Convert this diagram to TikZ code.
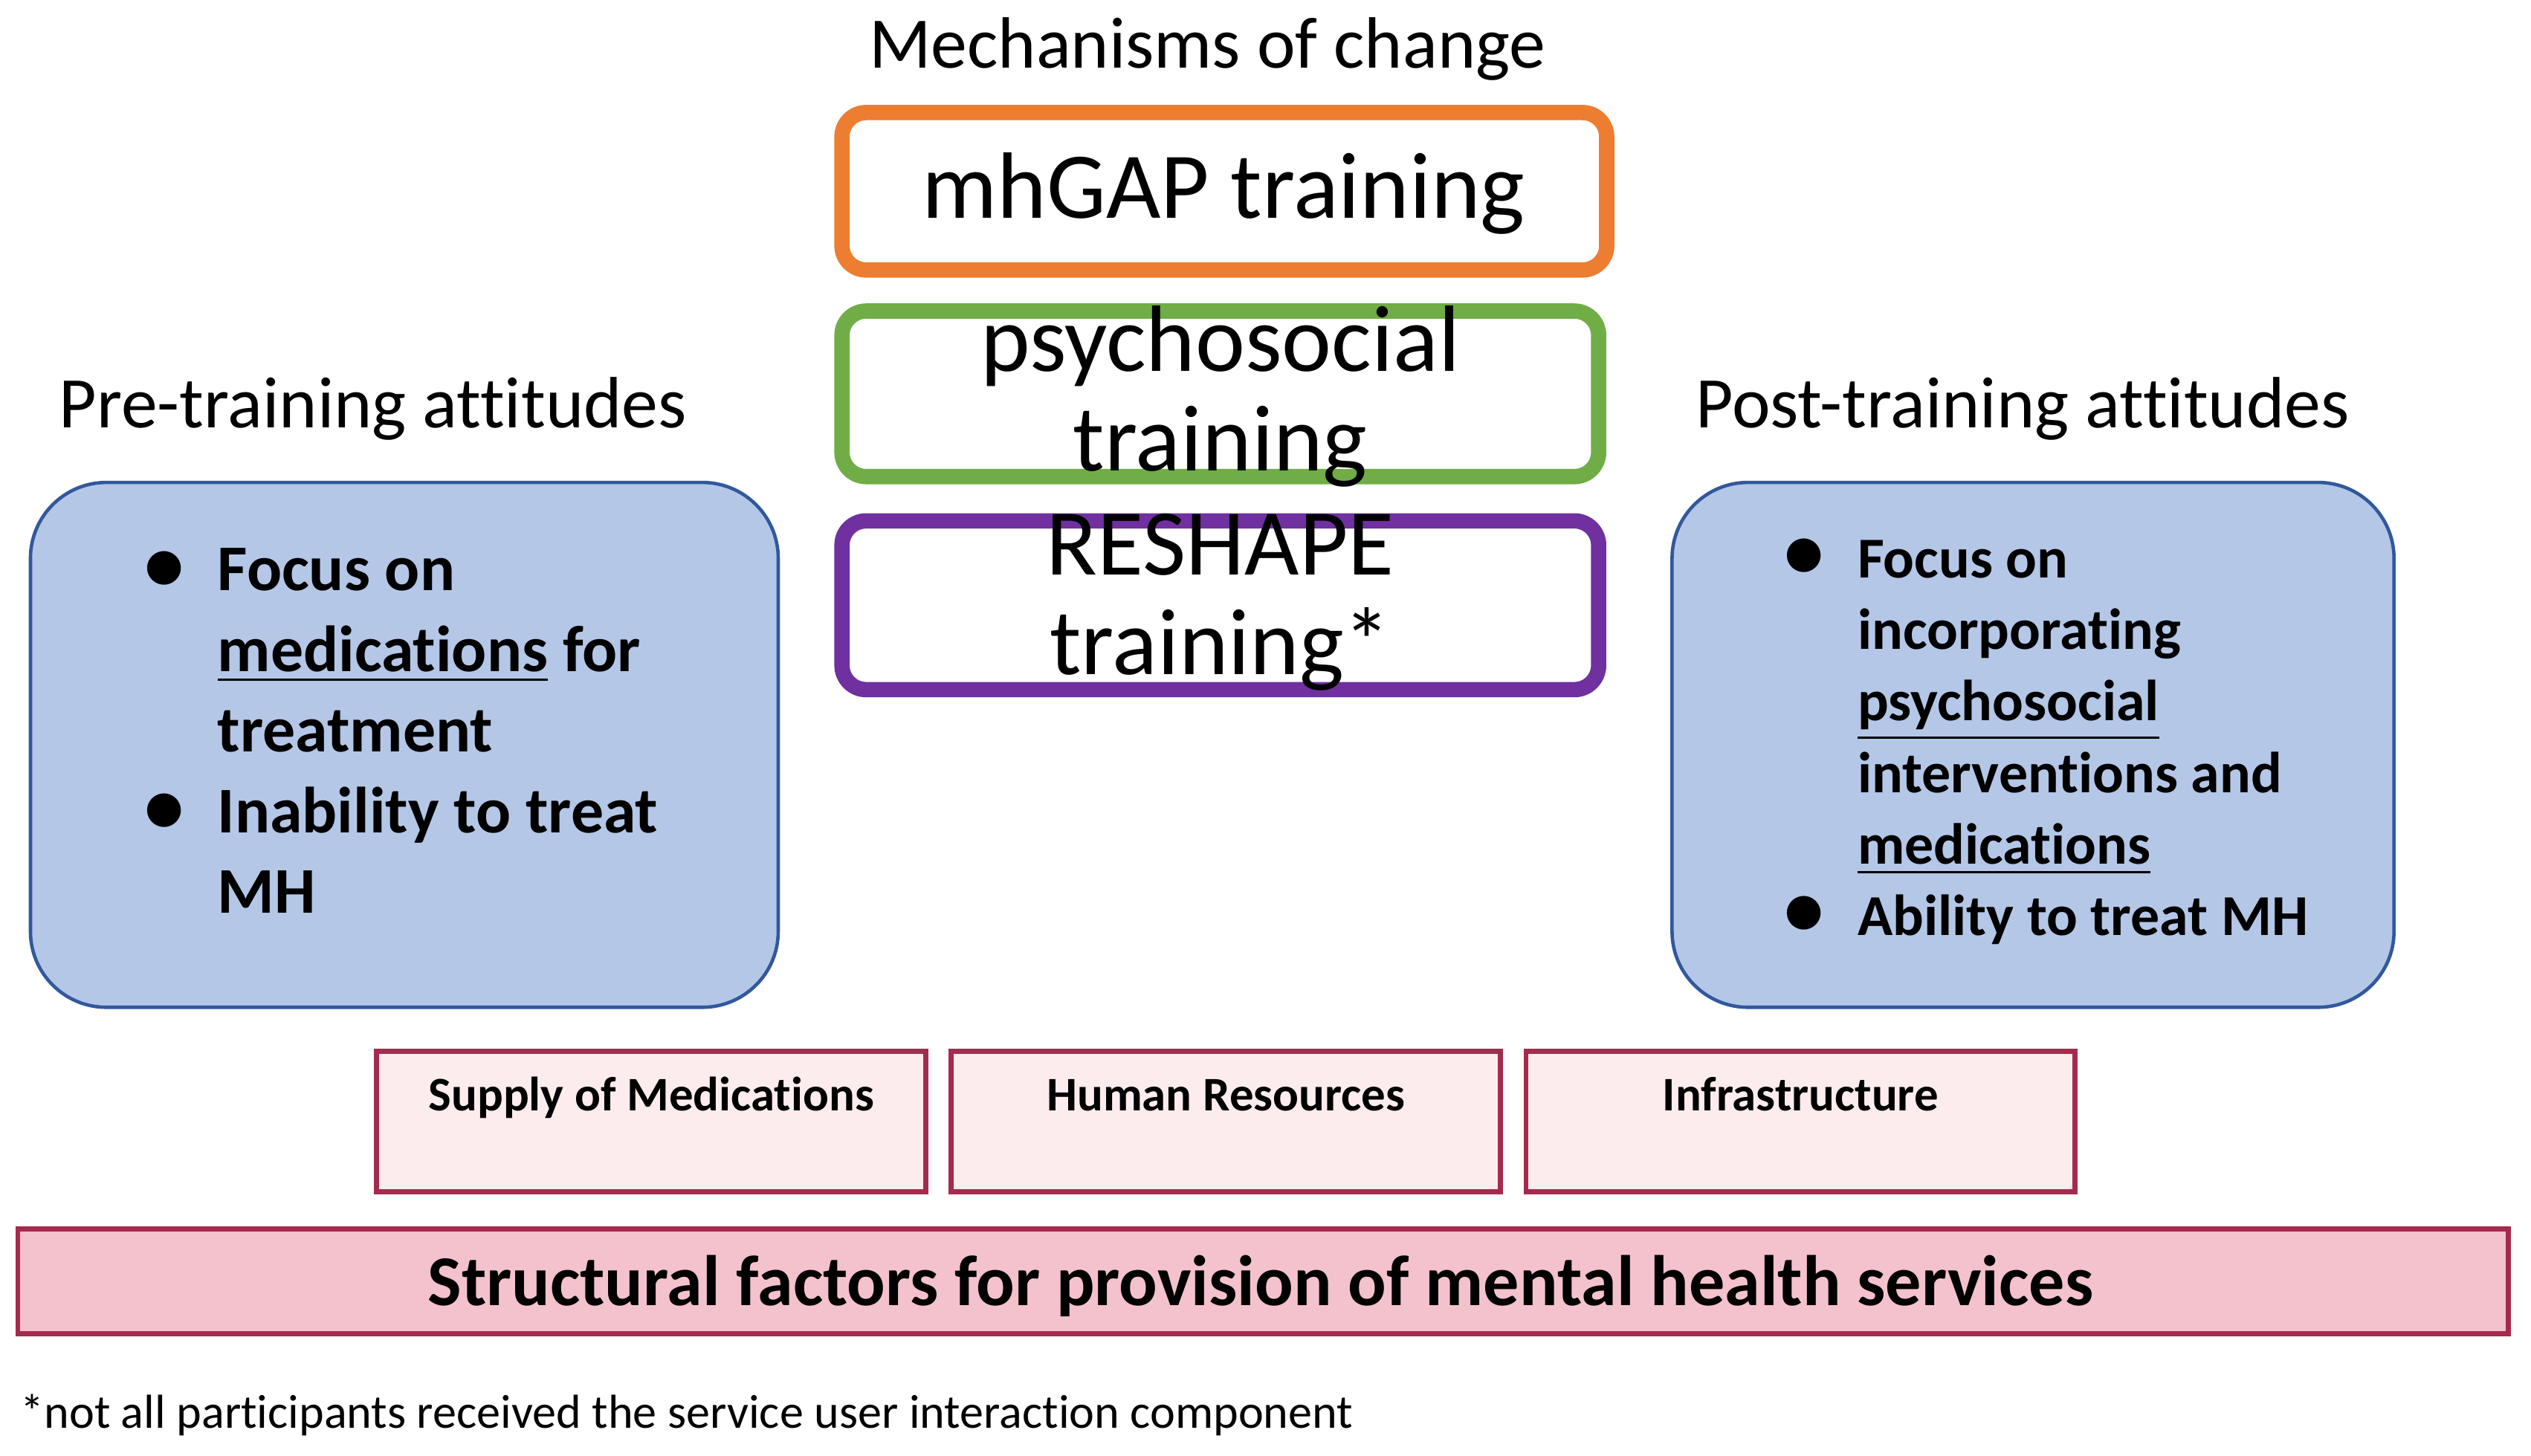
\documentclass[tikz,border=0pt]{standalone}
\usepackage{fontspec}
\setmainfont{Carlito}[Ligatures={NoCommon}]
\definecolor{morange}{RGB}{237,125,49}
\definecolor{mgreen}{RGB}{112,173,71}
\definecolor{mpurple}{RGB}{112,48,160}
\definecolor{bfill}{RGB}{180,199,231}
\definecolor{bborder}{RGB}{50,88,156}
\definecolor{ffill}{RGB}{252,236,238}
\definecolor{fborder}{RGB}{165,42,78}
\definecolor{sfill}{RGB}{244,194,204}
\newcommand\fsz[2]{\fontsize{#1}{#2}\selectfont}
\newcommand\bul{\makebox[18.8pt][c]{\fontsize{14}{14}\selectfont\textbullet}}
\begin{document}
\begin{tikzpicture}[x=0.01cm,y=-0.01cm,
  mech/.style={draw=#1, line width=2.7pt, rounded corners=0.15cm, fill=white, inner sep=0pt},
  attbox/.style={draw=bborder, line width=0.6pt, fill=bfill, rounded corners=0.47cm, inner sep=0pt},
  factor/.style={draw=fborder, line width=0.9pt, fill=ffill, inner sep=0pt, minimum width=3.40cm, minimum height=0.87cm},
  heading/.style={anchor=base, inner sep=0pt, font=\fsz{12.8}{15}},
  mechtext/.style={anchor=base, inner sep=0pt, font=\fsz{16.6}{17.6}},
  factortext/.style={anchor=base, inner sep=0pt, font=\fsz{8.5}{10}\bfseries}]
\useasboundingbox (0,0) rectangle (1568,902);

% headings
\node[heading] (mechhead) at (748,42) {Mechanisms of change};
\node[heading, anchor=base west] (prehead) at (36,265) {Pre-training attitudes};
\node[heading, anchor=base west] (posthead) at (1050,265) {Post-training attitudes};

% mechanism boxes
\node[mech=morange, minimum width=4.735cm, minimum height=0.975cm] (mhgap) at (758.5,118.5) {};
\node[mech=mgreen, minimum width=4.685cm, minimum height=1.025cm] (psycho) at (756,244) {};
\node[mech=mpurple, minimum width=4.685cm, minimum height=1.045cm] (reshape) at (756,375) {};
\node[mechtext] (mhgaptext) at (758,135) {mhGAP training};
\node[mechtext] (psychotext) at (756,230) {\begin{tabular}[t]{@{}c@{}}psychosocial\\training\end{tabular}};
\node[mechtext] (reshapetext) at (756,356) {\begin{tabular}[t]{@{}c@{}}RESHAPE\\training*\end{tabular}};

% attitude boxes
\node[attbox, minimum width=4.63cm, minimum height=3.25cm] (prebox) at (250.5,461.5) {};
\node[attbox, minimum width=4.47cm, minimum height=3.25cm] (postbox) at (1259.5,461.5) {};
\node[anchor=base west, inner sep=0pt, font=\fsz{11.5}{14.2}\bfseries] (pretext) at (68,366)
  {\begin{tabular}[t]{@{}l@{}l@{}}
   \bul & Focus on\\
        & \smash{\underline{medications}} for\\
        & treatment\\
   \bul & Inability to treat\\
        & MH
   \end{tabular}};
\node[anchor=base west, inner sep=0pt, font=\fsz{10.2}{12.6}\bfseries] (posttext) at (1084,358)
  {\begin{tabular}[t]{@{}l@{}l@{}}
   \bul & Focus on\\
        & incorporating\\
        & \smash{\underline{psychosocial}}\\
        & interventions and\\
        & \smash{\underline{medications}}\\
   \bul & Ability to treat MH
   \end{tabular}};

% structural factors
\node[factor] (supply) at (403.5,695) {};
\node[factor] (human) at (759.5,695) {};
\node[factor] (infra) at (1115.5,695) {};
\node[factortext] (supplytext) at (403.5,688) {Supply of Medications};
\node[factortext] (humantext) at (759.5,688) {Human Resources};
\node[factortext] (infratext) at (1115.5,688) {Infrastructure};

\node[draw=fborder, line width=0.9pt, fill=sfill, inner sep=0pt, minimum width=15.42cm, minimum height=0.65cm] (struct) at (782.5,794) {};
\node[anchor=base, inner sep=0pt, font=\fsz{12.6}{15}\bfseries] (structtext) at (781,809) {Structural factors for provision of mental health services};

% footnote
\node[anchor=base west, inner sep=0pt, font=\fsz{8.4}{10}] (footnote) at (12,885) {*not all participants received the service user interaction component};
\end{tikzpicture}
\end{document}
